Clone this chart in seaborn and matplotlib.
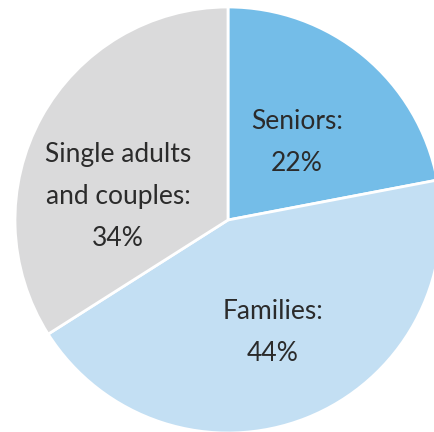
import matplotlib
matplotlib.use("Agg")
import matplotlib.pyplot as plt
import seaborn as sns

categories = ["Seniors", "Families", "Single adults\nand couples"]
values = [22, 44, 34]
colors = ["#74BDE8", "#C3DFF3", "#DADADB"]

sns.set_theme(style="white")
plt.rcParams['font.family'] = ['Lato', 'DejaVu Sans']

fig = plt.figure(figsize=(4.34, 4.32), dpi=100)
ax = fig.add_axes([0, 0, 1, 1])
wedges, texts = ax.pie(values, colors=colors, startangle=90, counterclock=False,
                       wedgeprops=dict(edgecolor="white", linewidth=2),
                       radius=1.0)
for t in texts:
    t.set_visible(False)

label_pos = [(0.324, 0.366), (0.211, -0.526), (-0.516, 0.108)]
for cat, v, pos in zip(categories, values, label_pos):
    ax.text(pos[0], pos[1], f"{cat}:\n{v}%", ha="center", va="center",
            fontsize=19, color="#2b2b2b", linespacing=1.85, fontweight="normal")

ax.set_xlim(-228/213, (434-228)/213)
ax.set_ylim(-(432-220)/213, 220/213)
ax.set_aspect('auto')
ax.axis('off')
fig.savefig("out.png", dpi=100)
